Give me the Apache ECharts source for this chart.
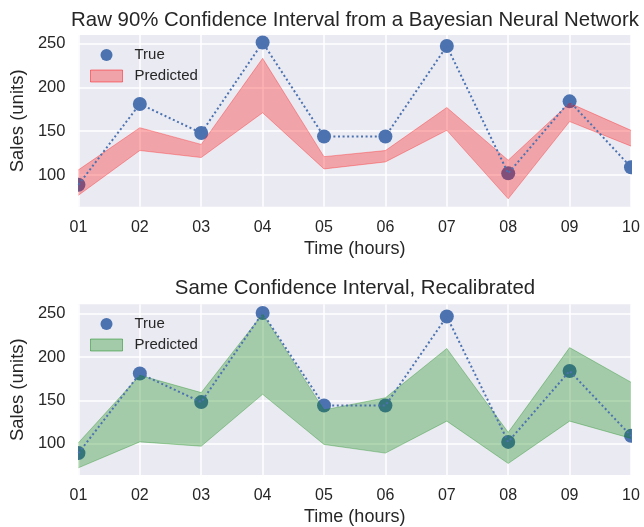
<!DOCTYPE html>
<html>
<head>
<meta charset="utf-8">
<script src="https://cdn.jsdelivr.net/npm/echarts@6/dist/echarts.min.js"></script>
<style>
html,body{margin:0;padding:0;background:#fff;}
#chart{width:644px;height:527px;}
</style>
</head>
<body>
<div id="chart"></div>
<script>
// ---- data ----
const hours = ['01', '02', '03', '04', '05', '06', '07', '08', '09', '10'];
const trueSales = [89, 181, 148, 251, 144, 144, 247, 102, 184, 109];
const rawLower = [77, 128, 120, 171, 107, 115, 151, 73, 161, 133];
const rawUpper = [106, 154, 135, 233, 121, 128, 177, 117, 182, 151];
const calLower = [72, 102, 97, 157, 99, 89, 126, 77, 126, 106];
const calUpper = [101, 179, 159, 250, 139, 153, 210, 113, 211, 171];
const titles = ['Raw 90% Confidence Interval from a Bayesian Neural Network', 'Same Confidence Interval, Recalibrated'];

const FONT = '"Liberation Sans", Arial, sans-serif';
const TXT = '#262626';
const BLUE = '#4C72B0';
const RED_FILL = 'rgba(255,0,0,0.3)';
const GREEN_FILL = 'rgba(0,128,0,0.3)';

const grids = [
  {left: 76, right: 13, top: 35, height: 171.7},
  {left: 76, right: 13, top: 304.3, height: 171.4}
];
const yRanges = [[64, 259.6], [63.7, 261.1]];

function xAxis(i) {
  return {
    type: 'category', gridIndex: i, data: hours, boundaryGap: false,
    axisLine: {show: false}, axisTick: {show: false},
    axisLabel: {color: TXT, fontFamily: FONT, fontSize: 16, margin: 12.5, interval: 0},
    splitLine: {show: true, interval: 0, lineStyle: {color: '#ffffff', width: 1.5}},
    name: 'Time (hours)', nameLocation: 'middle', nameGap: 33,
    nameTextStyle: {color: TXT, fontFamily: FONT, fontSize: 18}
  };
}
function yAxis(i) {
  return {
    type: 'value', gridIndex: i, min: yRanges[i][0], max: yRanges[i][1], splitNumber: 4,
    axisLine: {show: false}, axisTick: {show: false},
    axisLabel: {color: TXT, fontFamily: FONT, fontSize: 16.5, margin: 13, showMinLabel: false, showMaxLabel: false},
    splitLine: {show: true, showMinLine: false, showMaxLine: false, lineStyle: {color: '#ffffff', width: 1.5}},
    name: 'Sales (units)', nameLocation: 'middle', nameGap: 44, nameRotate: 90,
    nameTextStyle: {color: TXT, fontFamily: FONT, fontSize: 18.5}
  };
}
function dots(i) {
  return {
    type: 'custom', name: 'True', xAxisIndex: i, yAxisIndex: i, clip: true, z: 1,
    data: trueSales.map((v, k) => [k, v]),
    renderItem: function (params, api) {
      const p = api.coord([api.value(0), api.value(1)]);
      return {type: 'circle', shape: {cx: p[0], cy: p[1], r: 7}, style: {fill: BLUE}};
    }
  };
}
function band(i, lower, upper, fill) {
  const st = 'band' + i;
  return [
    {type: 'line', name: 'lowerEdge' + i, stack: st, xAxisIndex: i, yAxisIndex: i, data: lower,
     symbol: 'none', z: 2, lineStyle: {color: fill, width: 1}},
    {type: 'line', name: 'Predicted', stack: st, xAxisIndex: i, yAxisIndex: i,
     data: upper.map((u, k) => u - lower[k]),
     symbol: 'none', z: 2, lineStyle: {color: fill, width: 1}, areaStyle: {color: fill, opacity: 1}}
  ];
}
function dotted(i) {
  return {type: 'line', name: 'trueLine' + i, xAxisIndex: i, yAxisIndex: i, data: trueSales,
    symbol: 'none', z: 3, lineStyle: {color: BLUE, width: 2, type: [2, 2.6]}};
}
function legend(i, top, fill, border) {
  return {
    orient: 'vertical', left: 90, top: top, padding: 0, itemWidth: 32, itemHeight: 12, itemGap: 6,
    textStyle: {color: TXT, fontFamily: FONT, fontSize: 15, lineHeight: 15, padding: [0, 0, 0, 7]},
    data: [
      {name: 'True', icon: 'circle', itemStyle: {color: BLUE, borderWidth: 0}},
      {name: 'Predicted', icon: 'rect', itemStyle: {color: fill, borderColor: border, borderWidth: 1}}
    ],
    selectedMode: false
  };
}

const option = {
  animation: false,
  backgroundColor: '#ffffff',
  title: [
    {text: titles[0], left: 355, top: 10, padding: 0, textAlign: 'center',
     textStyle: {color: TXT, fontFamily: FONT, fontSize: 20.4, fontWeight: 'normal'}},
    {text: titles[1], left: 355, top: 278, padding: 0, textAlign: 'center',
     textStyle: {color: TXT, fontFamily: FONT, fontSize: 20.4, fontWeight: 'normal'}}
  ],
  grid: grids.map(g => Object.assign({show: true, backgroundColor: '#EAEAF2', borderWidth: 0}, g)),
  xAxis: [xAxis(0), xAxis(1)],
  yAxis: [yAxis(0), yAxis(1)],
  legend: [legend(0, 47.5, RED_FILL, 'rgba(255,0,0,0.45)'), legend(1, 316.5, GREEN_FILL, 'rgba(0,128,0,0.45)')],
  series: [
    dots(0), ...band(0, rawLower, rawUpper, RED_FILL), dotted(0),
    dots(1), ...band(1, calLower, calUpper, GREEN_FILL), dotted(1)
  ]
};
const chart = echarts.init(document.getElementById('chart'), null, {renderer: 'canvas'});
chart.setOption(option);
</script>
</body>
</html>
